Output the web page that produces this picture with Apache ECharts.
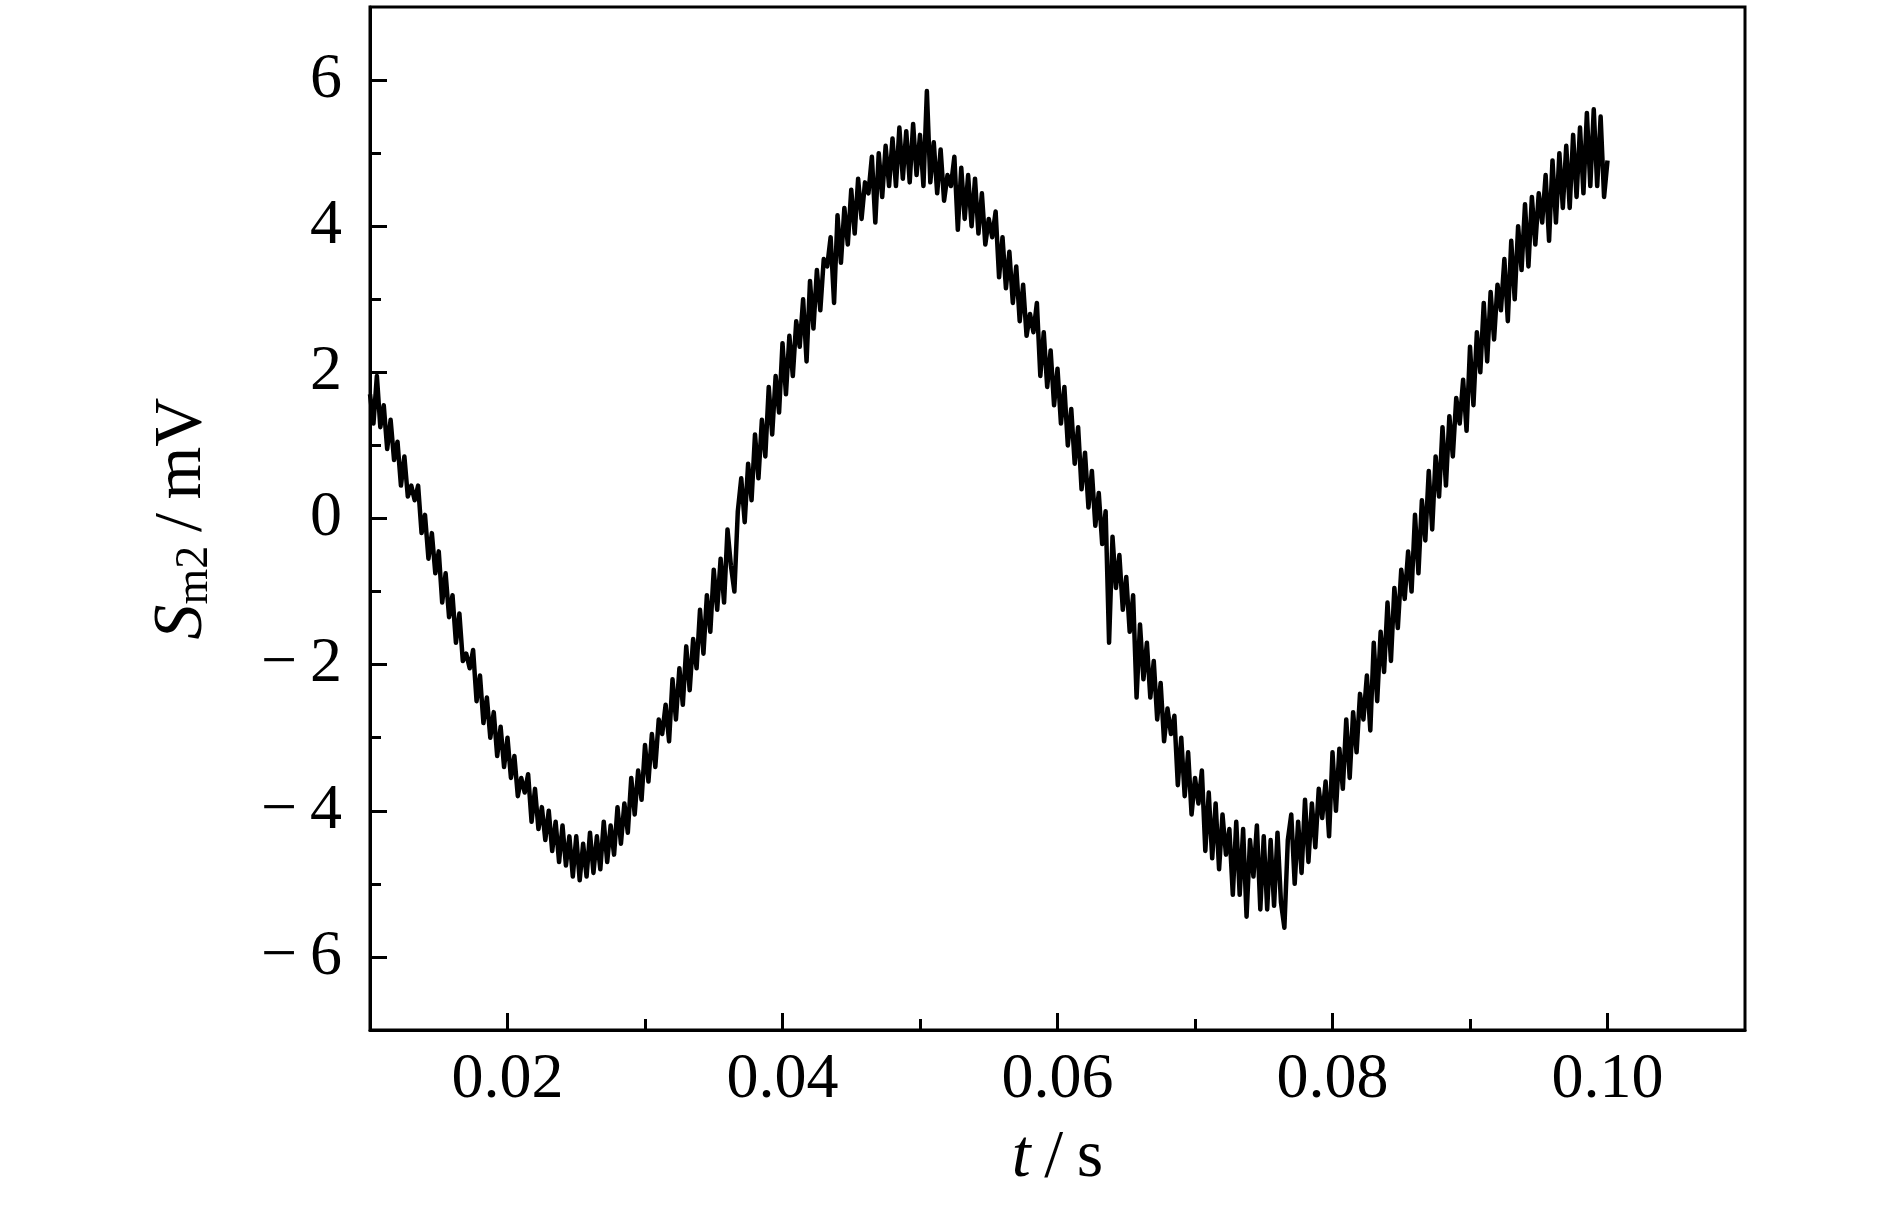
<!DOCTYPE html>
<html>
<head>
<meta charset="utf-8">
<script src="https://cdn.jsdelivr.net/npm/echarts@6/dist/echarts.min.js"></script>
<style>
  html, body { margin: 0; padding: 0; background: #fff; }
  #chart { width: 1890px; height: 1205px; }
</style>
</head>
<body>
<div id="chart"></div>
<script>
// sampling of the recorded trace
const tStart = 0.010;
const tStep = 0.00025;

// S_m2 (mV), one row per millisecond
const signal = [
  1.70, 1.30, 1.95, 1.25,
  1.55, 0.95, 1.35, 0.80,
  1.05, 0.45, 0.85, 0.30,
  0.45, 0.25, 0.45, -0.20,
  0.05, -0.55, -0.20, -0.75,
  -0.45, -1.15, -0.75, -1.35,
  -1.05, -1.70, -1.30, -1.95,
  -1.85, -2.05, -1.80, -2.50,
  -2.15, -2.80, -2.45, -3.00,
  -2.65, -3.25, -2.85, -3.40,
  -3.00, -3.55, -3.25, -3.80,
  -3.55, -3.75, -3.50, -4.15,
  -3.70, -4.25, -3.95, -4.40,
  -4.00, -4.55, -4.15, -4.70,
  -4.20, -4.75, -4.35, -4.90,
  -4.35, -4.95, -4.45, -4.90,
  -4.30, -4.85, -4.35, -4.80,
  -4.15, -4.70, -4.20, -4.60,
  -3.95, -4.45, -3.90, -4.30,
  -3.55, -4.05, -3.45, -3.85,
  -3.10, -3.60, -2.95, -3.40,
  -2.75, -2.95, -2.55, -3.05,
  -2.20, -2.75, -2.05, -2.55,
  -1.75, -2.35, -1.65, -2.05,
  -1.25, -1.85, -1.05, -1.55,
  -0.70, -1.25, -0.55, -1.15,
  -0.15, -0.65, -1.00, 0.10,
  0.55, -0.05, 0.75, 0.25,
  1.15, 0.55, 1.35, 0.85,
  1.80, 1.15, 1.95, 1.45,
  2.40, 1.70, 2.50, 1.95,
  2.70, 2.35, 3.00, 2.15,
  3.25, 2.60, 3.40, 2.85,
  3.55, 3.45, 3.85, 2.95,
  4.15, 3.50, 4.25, 3.75,
  4.50, 3.90, 4.65, 4.10,
  4.60, 4.45, 4.95, 4.05,
  5.00, 4.40, 5.10, 4.55,
  5.20, 4.55, 5.35, 4.65,
  5.30, 4.60, 5.40, 4.70,
  5.25, 4.55, 5.85, 4.60,
  5.15, 4.45, 5.05, 4.35,
  4.70, 4.55, 4.95, 3.95,
  4.80, 4.10, 4.70, 4.00,
  4.65, 3.90, 4.45, 3.75,
  4.10, 3.85, 4.20, 3.30,
  3.85, 3.15, 3.65, 2.95,
  3.45, 2.70, 3.20, 2.50,
  2.80, 2.55, 2.95, 1.95,
  2.55, 1.80, 2.30, 1.55,
  2.05, 1.30, 1.80, 1.00,
  1.50, 0.75, 1.25, 0.40,
  0.90, 0.15, 0.65, -0.10,
  0.35, -0.35, 0.10, -1.70,
  -0.25, -0.95, -0.50, -1.25,
  -0.80, -1.55, -1.05, -2.45,
  -1.45, -2.20, -1.70, -2.45,
  -1.95, -2.75, -2.25, -3.05,
  -2.60, -2.95, -2.70, -3.65,
  -3.00, -3.80, -3.20, -4.05,
  -3.55, -3.90, -3.45, -4.55,
  -3.75, -4.65, -3.90, -4.80,
  -4.05, -4.60, -4.25, -5.15,
  -4.15, -5.15, -4.25, -5.45,
  -4.40, -4.90, -4.20, -5.35,
  -4.35, -5.35, -4.40, -5.30,
  -4.30, -5.25, -5.60, -4.40,
  -4.05, -5.00, -4.15, -4.85,
  -3.85, -4.70, -3.90, -4.50,
  -3.70, -4.10, -3.60, -4.35,
  -3.20, -4.00, -3.15, -3.70,
  -2.75, -3.55, -2.65, -3.20,
  -2.40, -2.75, -2.15, -2.90,
  -1.70, -2.50, -1.55, -2.10,
  -1.15, -1.95, -0.95, -1.50,
  -0.70, -1.10, -0.45, -1.00,
  0.05, -0.75, 0.25, -0.30,
  0.65, -0.15, 0.85, 0.30,
  1.25, 0.45, 1.40, 0.85,
  1.65, 1.30, 1.90, 1.20,
  2.35, 1.55, 2.55, 2.00,
  2.95, 2.15, 3.10, 2.45,
  3.20, 2.85, 3.55, 2.70,
  3.80, 3.00, 4.00, 3.40,
  4.30, 3.45, 4.40, 3.75,
  4.45, 4.05, 4.70, 3.80,
  4.90, 4.05, 5.00, 4.25,
  5.10, 4.25, 5.25, 4.40,
  5.35, 4.45, 5.55, 4.55,
  5.60, 4.55, 5.50, 4.40,
  4.90
];

// axis ticks
const xMajorTicks = [0.02, 0.04, 0.06, 0.08, 0.10];
const xMinorTicks = [0.03, 0.05, 0.07, 0.09];
const yMajorTicks = [-6, -4, -2, 0, 2, 4, 6];
const yMinorTicks = [-5, -3, -1, 1, 3, 5];

const FONT = "'Liberation Serif', 'DejaVu Serif', serif";
const INK = '#000';

const points = signal.map((v, i) => [+(tStart + i * tStep).toFixed(5), v]);

const chart = echarts.init(document.getElementById('chart'), null, { renderer: 'canvas' });

const lineOn = { show: true, onZero: false, lineStyle: { color: INK, width: 3 } };
const lineOff = { show: false, onZero: false };

chart.setOption({
  animation: false,
  backgroundColor: '#fff',
  grid: {
    left: 370, top: 7, width: 1375, height: 1023,
    show: true, borderColor: INK, borderWidth: 3, backgroundColor: 'transparent'
  },
  xAxis: [
    {
      type: 'value', min: 0.01, max: 0.11, position: 'bottom',
      splitLine: { show: false },
      axisLine: lineOn,
      axisTick: { show: true, inside: true, length: 17, lineStyle: { color: INK, width: 3 }, customValues: xMajorTicks },
      axisLabel: {
        show: true, customValues: xMajorTicks, margin: 18,
        fontFamily: FONT, fontSize: 64, color: INK,
        formatter: v => v.toFixed(2)
      },
      name: '{it|t}{n|\u2009/\u2009s}',
      nameLocation: 'middle',
      nameGap: 94,
      nameTextStyle: {
        rich: {
          it: { fontFamily: FONT, fontSize: 68, fontStyle: 'italic', color: INK, lineHeight: 68 },
          n: { fontFamily: FONT, fontSize: 68, color: INK, lineHeight: 68 }
        }
      }
    },
    {
      type: 'value', min: 0.01, max: 0.11, position: 'bottom',
      splitLine: { show: false },
      axisLine: lineOff,
      axisTick: { show: true, inside: true, length: 11, lineStyle: { color: INK, width: 3 }, customValues: xMinorTicks },
      axisLabel: { show: false }
    }
  ],
  yAxis: [
    {
      type: 'value', min: -7, max: 7, position: 'left',
      splitLine: { show: false },
      axisLine: lineOn,
      axisTick: { show: true, inside: true, length: 17, lineStyle: { color: INK, width: 3 }, customValues: yMajorTicks },
      axisLabel: {
        show: true, customValues: yMajorTicks, margin: 28,
        fontFamily: FONT, fontSize: 64, color: INK,
        formatter: v => (v < 0 ? '\u2212\u2009' + Math.abs(v) : String(v))
      },
      name: '{it|S}{sub|m2}{n|\u2009/\u2009mV}',
      nameLocation: 'middle',
      nameGap: 152,
      nameTextStyle: {
        rich: {
          it: { fontFamily: FONT, fontSize: 70, fontStyle: 'italic', color: INK, lineHeight: 70, verticalAlign: 'top' },
          sub: { fontFamily: FONT, fontSize: 46, color: INK, lineHeight: 46, verticalAlign: 'bottom', padding: [28, 0, 0, 0] },
          n: { fontFamily: FONT, fontSize: 68, color: INK, lineHeight: 70, verticalAlign: 'top' }
        }
      }
    },
    {
      type: 'value', min: -7, max: 7, position: 'left',
      splitLine: { show: false },
      axisLine: lineOff,
      axisTick: { show: true, inside: true, length: 11, lineStyle: { color: INK, width: 3 }, customValues: yMinorTicks },
      axisLabel: { show: false }
    }
  ],
  series: [{
    type: 'line',
    xAxisIndex: 0,
    yAxisIndex: 0,
    data: points,
    showSymbol: false,
    symbol: 'none',
    clip: true,
    lineStyle: { color: INK, width: 4.5, join: 'round' }
  }]
});
</script>
</body>
</html>
